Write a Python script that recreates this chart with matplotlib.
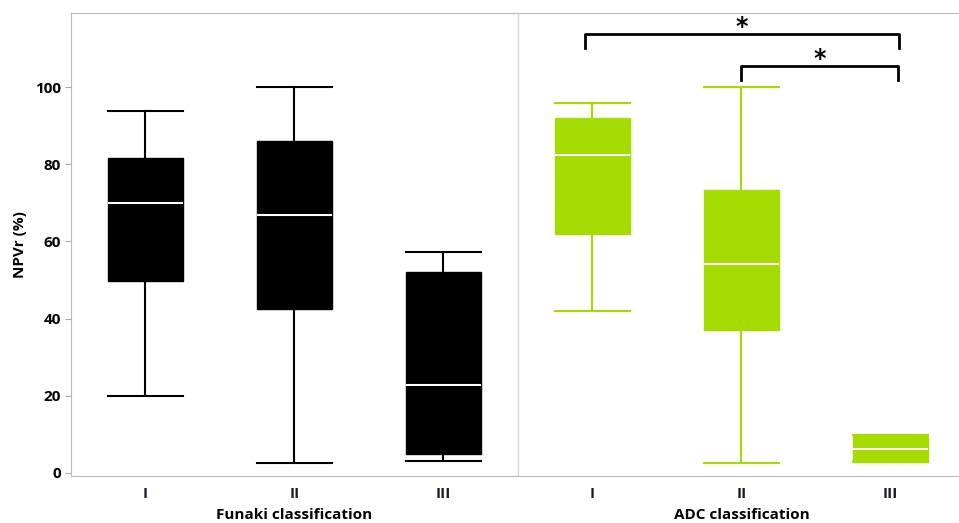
import matplotlib.pyplot as plt

# box statistics (NPVr %)
groups = ['I', 'II', 'III', 'I', 'II', 'III']
whislo = [20.0, 2.6, 3.1, 42.0, 2.6, 2.8]
q1 = [49.7, 42.5, 4.9, 61.9, 37.0, 2.8]
med = [70.0, 66.8, 22.8, 82.4, 54.1, 6.2]
q3 = [81.6, 86.0, 52.0, 92.0, 73.3, 9.8]
whishi = [93.8, 100.0, 57.3, 96.0, 100.0, 9.8]
colors = ['black', 'black', 'black', '#a4db00', '#a4db00', '#a4db00']

plt.rcParams['font.family'] = ['Open Sans', 'DejaVu Sans']
plt.rcParams['font.weight'] = 'bold'

fig = plt.figure(figsize=(9.59, 5.23), dpi=100)
ax = fig.add_axes([0.074, 0.0899, 0.926, 0.885])

positions = list(range(1, 7))
for i, p in enumerate(positions):
    st = [{'whislo': whislo[i], 'q1': q1[i], 'med': med[i], 'q3': q3[i],
           'whishi': whishi[i], 'fliers': []}]
    c = colors[i]
    ax.bxp(st, positions=[p], widths=0.5, patch_artist=True, showfliers=False,
           boxprops=dict(facecolor=c, edgecolor=c, linewidth=1),
           whiskerprops=dict(color=c, linewidth=1.5),
           capprops=dict(color=c, linewidth=1.5),
           medianprops=dict(color='white', linewidth=1.5),
           capwidths=0.5)

ax.set_xlim(0.5, 6.46)
ax.set_ylim(-0.8, 119.2)
ax.axvline(3.5, color='#d9d9d9', linewidth=1)

ax.set_yticks([0, 20, 40, 60, 80, 100])
ax.set_xticks(positions)
ax.set_xticklabels(groups, fontsize=11, fontweight='bold', color='#1a1a2e')
ax.tick_params(axis='y', labelsize=11, color='#aaaaaa', length=4, pad=3)
ax.tick_params(axis='x', length=0, pad=8)
for lab in ax.get_yticklabels():
    lab.set_fontweight('bold')

for s in ['left', 'top', 'bottom']:
    ax.spines[s].set_color('#bbbbbb')
ax.spines['right'].set_visible(False)

ax.set_ylabel('NPVr (%)', fontsize=11, fontweight='bold', labelpad=6)

# group labels
ax.text(2, -0.085, 'Funaki classification', transform=ax.get_xaxis_transform(),
        ha='center', va='center', fontsize=11, fontweight='bold')
ax.text(5, -0.085, 'ADC classification', transform=ax.get_xaxis_transform(),
        ha='center', va='center', fontsize=11, fontweight='bold')

# significance brackets
def bracket(x1, x2, y, h, ystar, label):
    ax.plot([x1, x1, x2, x2], [y - h, y, y, y - h], color='black', linewidth=2,
            clip_on=False)
    ax.text((x1 + x2) / 2, ystar, label, ha='center', va='center',
            fontsize=17, fontweight='bold', family='DejaVu Sans')

bracket(3.95, 6.06, 113.7, 3.6, 115.6, '*')
bracket(5.0, 6.05, 105.4, 3.6, 107.2, '*')

fig.savefig('out.png', dpi=100)
